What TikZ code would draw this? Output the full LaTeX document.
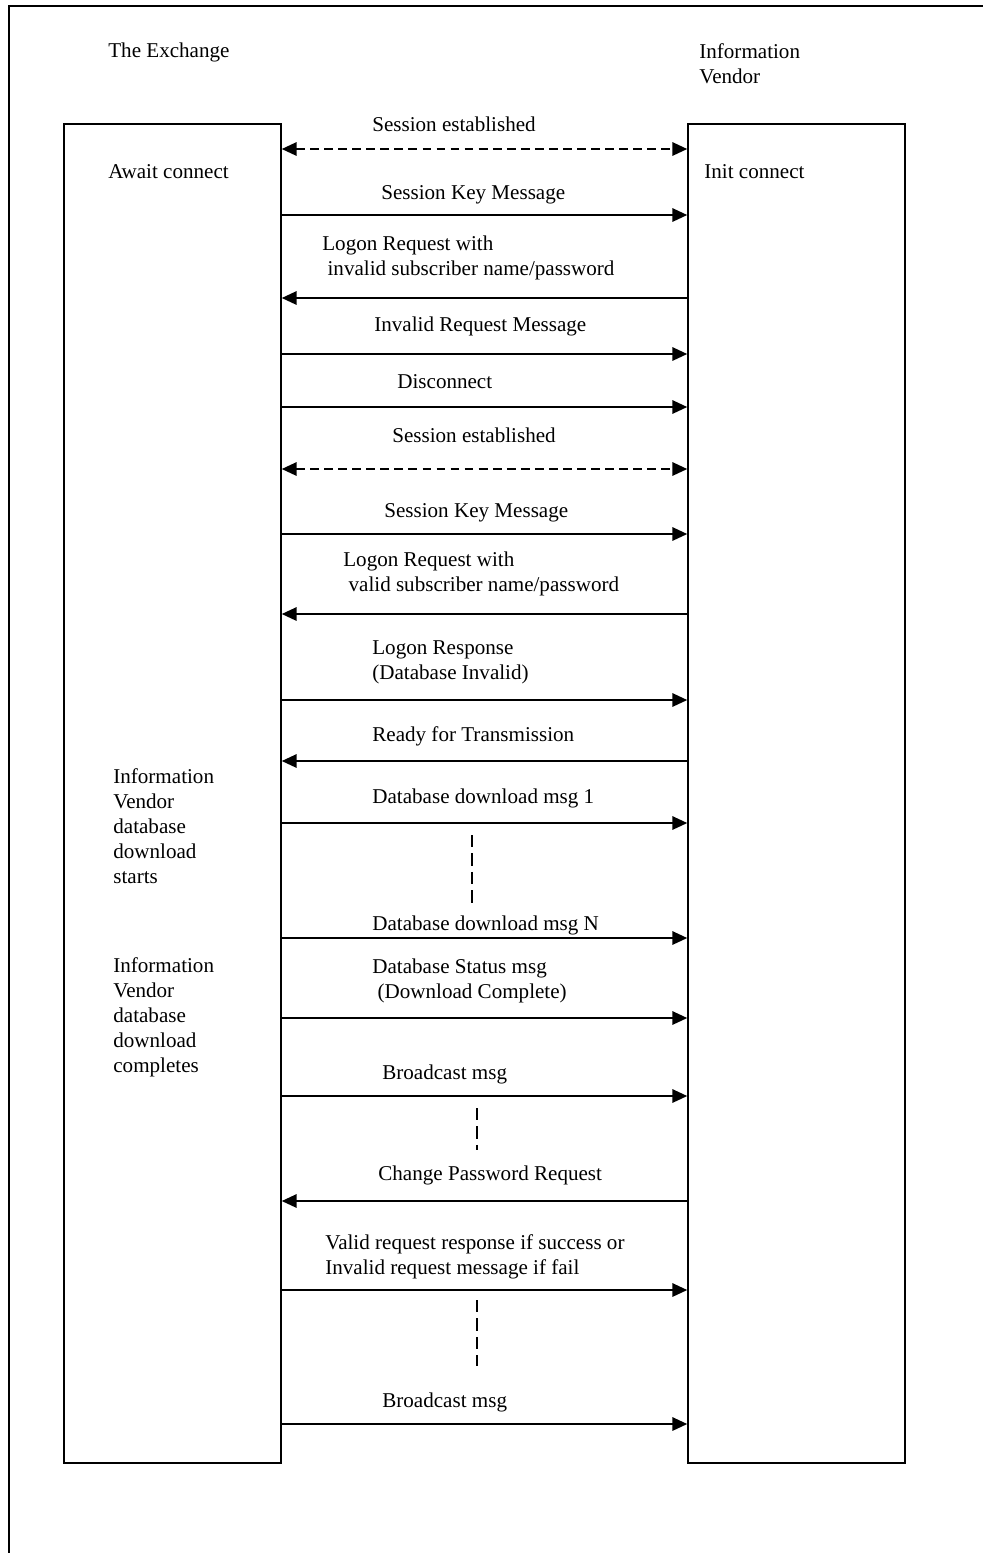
\documentclass[tikz,border=0pt]{standalone}
\usepackage{fontspec}
\setmainfont{Liberation Serif}
\usetikzlibrary{arrows.meta}
\tikzset{%
	lifeline/.style={rectangle, draw, line width=0.8pt, inner sep=0pt,
		minimum width=4.34cm, minimum height=26.78cm},
	msgtext/.style={anchor=west, inner sep=0pt, align=left,
		font=\fontsize{12}{14.2}\selectfont},
	msg/.style={line width=1.4pt, -{Triangle[length=8.5pt,width=7.5pt]}},
	sess/.style={line width=1.4pt, dash pattern=on 5pt off 3pt,
		{Triangle[length=8.5pt,width=7.5pt]}-{Triangle[length=8.5pt,width=7.5pt]}},
	gap/.style={line width=0.8pt, dash pattern=on 7pt off 3.5pt},
}

\begin{document}
\begin{tikzpicture}[x=0.02cm, y=-0.02cm]
	\useasboundingbox (0,0) rectangle (983,1553);
	\draw[line width=0.9pt] (9,1553) -- (9,6) -- (983,6);

	% the two parties
	\node [msgtext] (Exchange) at (108,52) {The Exchange};
	\node [msgtext] (Vendor) at (699,64) {Information\\Vendor};
	\node [lifeline] (ExBox) at (172.5,793.5) {};
	\node [lifeline] (IvBox) at (796.5,793.5) {};
	\node [msgtext] (Await) at (108,172) {Await connect};
	\node [msgtext] (Init) at (704,172) {Init connect};
	\node [msgtext] (DbStart) at (113,826) {Information\\Vendor\\database\\download\\starts};
	\node [msgtext] (DbDone) at (113,1017) {Information\\Vendor\\database\\download\\completes};

	% message texts
	\node [msgtext] (Msg01) at (372,124) {Session established};
	\node [msgtext] (Msg02) at (381,195) {Session Key Message};
	\node [msgtext] (Msg03) at (322,257.5) {Logon Request with\\~invalid subscriber name/password};
	\node [msgtext] (Msg04) at (374,326) {Invalid Request Message};
	\node [msgtext] (Msg05) at (397,382) {Disconnect};
	\node [msgtext] (Msg06) at (392,435) {Session established};
	\node [msgtext] (Msg07) at (384,513) {Session Key Message};
	\node [msgtext] (Msg08) at (343,573.5) {Logon Request with\\~valid subscriber name/password};
	\node [msgtext] (Msg09) at (372,662.5) {Logon Response\\(Database Invalid)};
	\node [msgtext] (Msg10) at (372,736) {Ready for Transmission};
	\node [msgtext] (Msg11) at (372,798) {Database download msg 1};
	\node [msgtext] (Msg12) at (372,925) {Database download msg N};
	\node [msgtext] (Msg13) at (372,980.5) {Database Status msg\\~(Download Complete)};
	\node [msgtext] (Msg14) at (382,1074) {Broadcast msg};
	\node [msgtext] (Msg15) at (378,1175) {Change Password Request};
	\node [msgtext] (Msg16) at (325,1256.5) {Valid request response if success or\\Invalid request message if fail};
	\node [msgtext] (Msg17) at (382,1402) {Broadcast msg};

	% arrows
	\foreach \y in {149,469}
		\draw[sess] (ExBox.east |- 0,\y) -- (IvBox.west |- 0,\y);
	\foreach \y in {215,354,407,534,700,823,938,1018,1096,1290,1424}
		\draw[msg] (ExBox.east |- 0,\y) -- (IvBox.west |- 0,\y);
	\foreach \y in {298,614,761,1201}
		\draw[msg] (IvBox.west |- 0,\y) -- (ExBox.east |- 0,\y);

	\draw[gap] (472,835) -- (472,906);
	\draw[gap] (477,1108) -- (477,1150);
	\draw[gap] (477,1300) -- (477,1366);
\end{tikzpicture}
\end{document}
